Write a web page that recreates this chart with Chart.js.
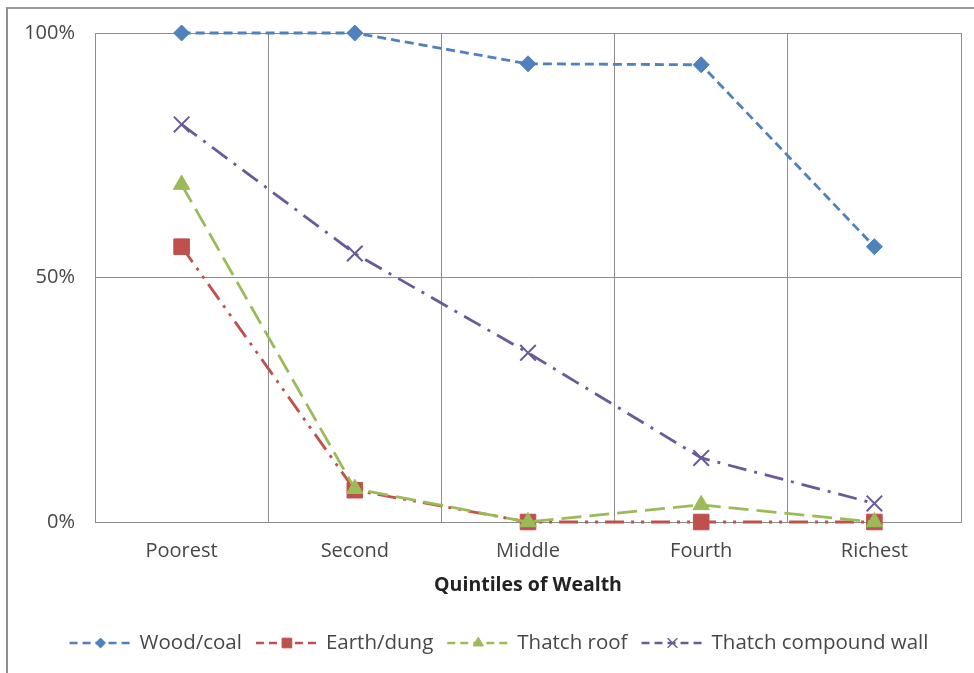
<!DOCTYPE html>
<html>
<head>
<meta charset="utf-8">
<script src="https://cdn.jsdelivr.net/npm/chart.js@4/dist/chart.umd.min.js"></script>
<style>
  html, body { margin: 0; padding: 0; background: #ffffff; }
  #wrap { position: relative; width: 974px; height: 673px; }
  #frame { position: absolute; left: 6px; top: 7px; right: -4px; bottom: -4px;
           border-left: 2px solid #8f8f8f; border-top: 2px solid #9a9a9a; pointer-events: none; }
  canvas { position: absolute; left: 0; top: 0; }
</style>
</head>
<body>
<div id="wrap">
  <canvas id="chart" width="974" height="673"></canvas>
  <div id="frame"></div>
</div>
<script>
// Share of households by wealth quintile
const quintiles = ['Poorest', 'Second', 'Middle', 'Fourth', 'Richest'];
const woodCoal = [100, 100, 93.7, 93.5, 56.3];
const earthDung = [56.3, 6.5, 0, 0, 0];
const thatchRoof = [69, 6.8, 0, 3.5, 0];
const thatchWall = [81.3, 54.9, 34.6, 13.1, 3.8];
const yTickValues = [0, 50, 100];

const FONT = '"Open Sans", "Liberation Sans", sans-serif';
const TEXT = '#474747';
const GRID = '#8c8c8c';

const series = [
  { label: 'Wood/coal', data: woodCoal, color: '#4f81bd', dash: [9, 5], point: 'rectRot', radius: 8, order: 4 },
  { label: 'Earth/dung', data: earthDung, color: '#c0504d', dash: [19, 7, 3, 7, 3, 7], point: 'rect', radius: 11, order: 3 },
  { label: 'Thatch roof', data: thatchRoof, color: '#9bbb59', dash: [20, 8], point: 'triangle', radius: 9.5, order: 2 },
  { label: 'Thatch compound wall', data: thatchWall, color: '#6a5a9a', dash: [19, 8, 3, 8], point: 'crossRot', radius: 11, order: 1 }
];

// Line legend: dashed sample with the marker in its middle, then the label
const legendPlugin = {
  id: 'lineLegend',
  afterDraw(chart) {
    const ctx = chart.ctx;
    const y = 643;
    const sampleW = 62, gapText = 8, gapItem = 14;
    ctx.save();
    ctx.font = '20.5px ' + FONT;
    const widths = series.map(s => ctx.measureText(s.label).width);
    let total = 0;
    widths.forEach(w => total += sampleW + gapText + w);
    total += gapItem * (series.length - 1);
    let x = 499 - total / 2;
    series.forEach((s, i) => {
      ctx.save();
      ctx.strokeStyle = s.color;
      ctx.fillStyle = s.color;
      ctx.lineWidth = 2.7;
      ctx.setLineDash([8, 5]);
      ctx.beginPath();
      ctx.moveTo(x, y);
      ctx.lineTo(x + sampleW, y);
      ctx.stroke();
      ctx.setLineDash([]);
      ctx.lineWidth = s.point === 'crossRot' ? 1.4 : 1;
      Chart.helpers.drawPoint(ctx, {
        pointStyle: s.point, radius: s.radius * 0.62, rotation: 0,
        borderWidth: s.point === 'crossRot' ? 1.4 : 1
      }, x + sampleW / 2, y);
      ctx.restore();
      ctx.fillStyle = TEXT;
      ctx.textBaseline = 'middle';
      ctx.textAlign = 'left';
      ctx.fillText(s.label, x + sampleW + gapText, y);
      x += sampleW + gapText + widths[i] + gapItem;
    });
    ctx.restore();
  }
};

// Box around the plot area
const frameBox = {
  id: 'plotFrame',
  beforeDatasetsDraw(chart) {
    const a = chart.chartArea, ctx = chart.ctx;
    ctx.save();
    ctx.strokeStyle = GRID;
    ctx.lineWidth = 1;
    ctx.strokeRect(Math.round(a.left) + 0.5, Math.round(a.top) + 0.5,
                   Math.round(a.right - a.left), Math.round(a.bottom - a.top));
    ctx.restore();
  }
};

new Chart(document.getElementById('chart'), {
  type: 'line',
  data: {
    labels: quintiles,
    datasets: series.map(s => ({
      label: s.label,
      data: s.data,
      order: s.order,
      borderColor: s.color,
      backgroundColor: s.color,
      borderWidth: 2.8,
      borderDash: s.dash,
      pointStyle: s.point,
      pointRadius: s.radius,
      pointBorderWidth: s.point === 'crossRot' ? 2 : 1,
      pointBorderColor: s.color,
      pointBackgroundColor: s.color,
      pointHoverRadius: s.radius,
      fill: false,
      tension: 0,
      clip: false
    }))
  },
  options: {
    responsive: false,
    animation: false,
    layout: { padding: { left: 0, right: 12, top: 33, bottom: 76 } },
    plugins: {
      legend: { display: false },
      tooltip: { enabled: false }
    },
    scales: {
      x: {
        offset: true,
        grid: { offset: true, color: GRID, lineWidth: 1, drawTicks: false },
        border: { color: GRID, width: 1 },
        ticks: { color: TEXT, font: { family: FONT, size: 20 }, padding: 17, maxRotation: 0 },
        title: {
          display: true, text: 'Quintiles of Wealth', color: '#222222',
          font: { family: FONT, size: 19.5, weight: 'bold' }, padding: { top: 0, bottom: 0 }
        },
        afterFit(scale) { scale.height = 75; }
      },
      y: {
        min: 0, max: 100,
        afterBuildTicks(scale) { scale.ticks = yTickValues.map(v => ({ value: v })); },
        grid: { color: GRID, lineWidth: 1, drawTicks: false },
        border: { color: GRID, width: 1 },
        ticks: {
          color: TEXT, font: { family: FONT, size: 20 }, padding: 20,
          callback: v => v + '%'
        },
        afterFit(scale) { scale.width = 95; }
      }
    }
  },
  plugins: [frameBox, legendPlugin]
});
</script>
</body>
</html>
